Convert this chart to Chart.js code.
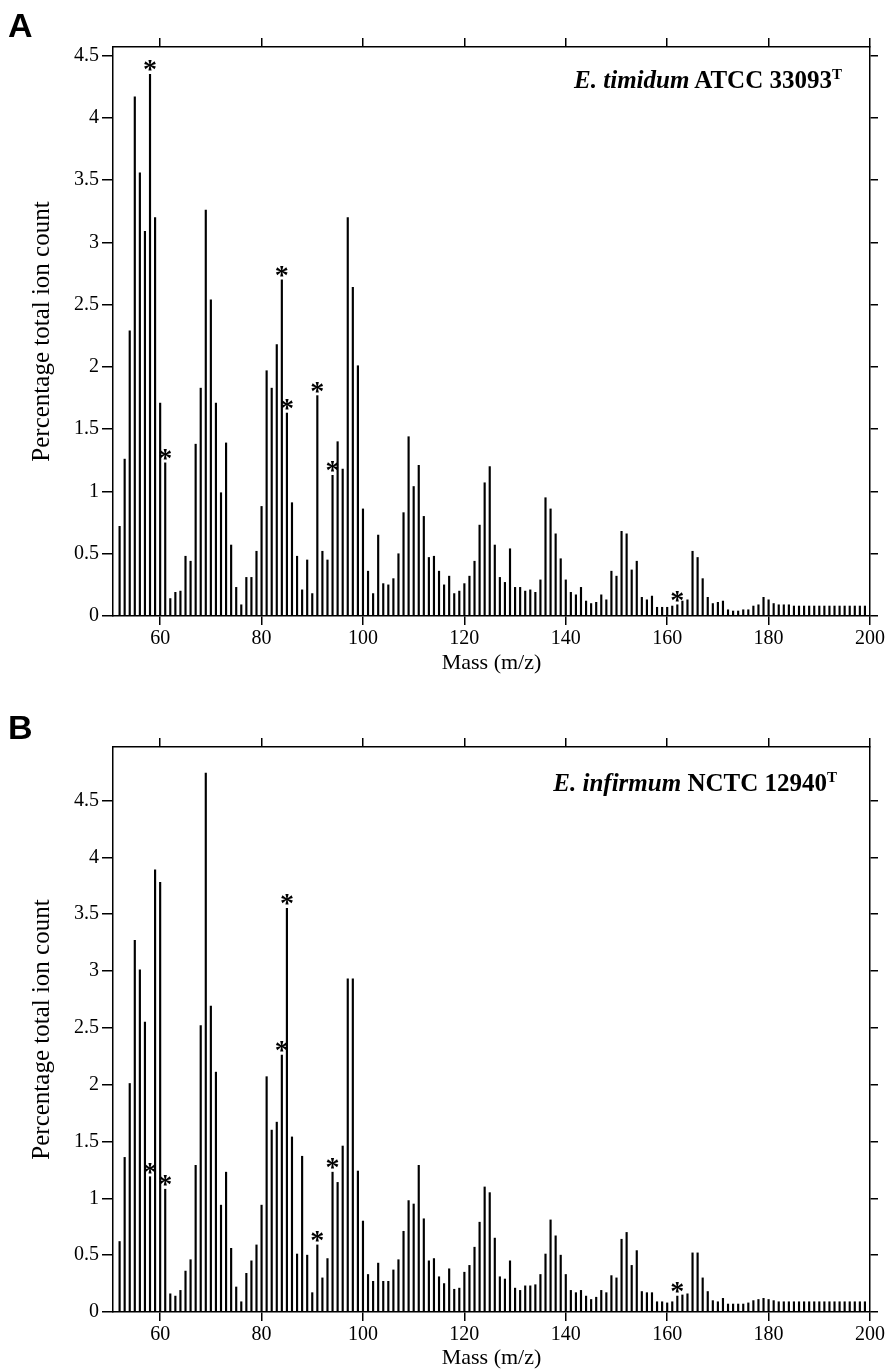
<!DOCTYPE html>
<html><head><meta charset="utf-8">
<script src="https://cdn.jsdelivr.net/npm/chart.js@4.4.0/dist/chart.umd.min.js"></script>
<style>
html,body{margin:0;padding:0;background:#fff;}
#wrap{position:relative;width:889px;height:1370px;overflow:hidden;}
.panel{position:absolute;left:0;width:889px;height:685px;}
.letter{position:absolute;font-family:"Liberation Sans",Arial,sans-serif;font-weight:bold;font-size:34px;line-height:1;color:#000;}
.ann{position:absolute;font-family:"Liberation Serif","Times New Roman",serif;font-weight:bold;font-size:25px;line-height:1;white-space:nowrap;color:#000;}
.ann sup{font-size:15px;position:relative;top:-9px;vertical-align:baseline;}
</style></head>
<body>
<div id="wrap">
 <div class="panel" style="top:0"><canvas id="cA" width="889" height="685"></canvas></div>
 <div class="panel" style="top:685px"><canvas id="cB" width="889" height="685"></canvas></div>
 <div class="letter" style="left:8px;top:8px">A</div>
 <div class="letter" style="left:8px;top:710px">B</div>
 <div class="ann" style="right:47px;top:67px"><i>E. timidum</i> ATCC 33093<sup>T</sup></div>
 <div class="ann" style="right:52px;top:770px"><i>E. infirmum</i> NCTC 12940<sup>T</sup></div>
</div>
<script>
// m/z categories
const masses = [52,53,54,55,56,57,58,59,60,61,62,63,64,65,66,67,68,69,70,71,72,73,74,75,76,77,78,79,80,81,82,83,84,85,86,87,88,89,90,91,92,93,94,95,96,97,98,99,100,101,102,103,104,105,106,107,108,109,110,111,112,113,114,115,116,117,118,119,120,121,122,123,124,125,126,127,128,129,130,131,132,133,134,135,136,137,138,139,140,141,142,143,144,145,146,147,148,149,150,151,152,153,154,155,156,157,158,159,160,161,162,163,164,165,166,167,168,169,170,171,172,173,174,175,176,177,178,179,180,181,182,183,184,185,186,187,188,189,190,191,192,193,194,195,196,197,198,199];

// Panel A: E. timidum ATCC 33093T, percentage total ion count
const timidum = [0.72,1.26,2.29,4.17,3.56,3.09,4.35,3.20,1.71,1.23,0.14,0.19,0.20,0.48,0.44,1.38,1.83,3.26,2.54,1.71,0.99,1.39,0.57,0.23,0.09,0.31,0.31,0.52,0.88,1.97,1.83,2.18,2.70,1.63,0.91,0.48,0.21,0.45,0.18,1.77,0.52,0.45,1.13,1.40,1.18,3.20,2.64,2.01,0.86,0.36,0.18,0.65,0.26,0.25,0.30,0.50,0.83,1.44,1.04,1.21,0.80,0.47,0.48,0.36,0.25,0.32,0.18,0.20,0.26,0.32,0.44,0.73,1.07,1.20,0.57,0.31,0.27,0.54,0.23,0.23,0.20,0.21,0.19,0.29,0.95,0.86,0.66,0.46,0.29,0.19,0.17,0.23,0.12,0.10,0.11,0.17,0.13,0.36,0.32,0.68,0.66,0.37,0.44,0.15,0.13,0.16,0.07,0.07,0.07,0.08,0.09,0.12,0.13,0.52,0.47,0.30,0.15,0.10,0.11,0.12,0.05,0.04,0.04,0.05,0.05,0.08,0.09,0.15,0.13,0.10,0.09,0.09,0.09,0.08,0.08,0.08,0.08,0.08,0.08,0.08,0.08,0.08,0.08,0.08,0.08,0.08,0.08,0.08];

// Panel B: E. infirmum NCTC 12940T
const infirmum = [0.62,1.36,2.01,3.27,3.01,2.55,1.19,3.89,3.78,1.08,0.16,0.14,0.19,0.36,0.46,1.29,2.52,4.74,2.69,2.11,0.94,1.23,0.56,0.22,0.09,0.34,0.45,0.59,0.94,2.07,1.60,1.67,2.26,3.55,1.54,0.51,1.37,0.50,0.17,0.59,0.30,0.47,1.23,1.14,1.46,2.93,2.93,1.24,0.80,0.33,0.27,0.43,0.27,0.27,0.37,0.46,0.71,0.98,0.95,1.29,0.82,0.45,0.47,0.31,0.25,0.38,0.20,0.21,0.35,0.41,0.57,0.79,1.10,1.05,0.65,0.31,0.29,0.45,0.21,0.19,0.23,0.23,0.24,0.33,0.51,0.81,0.67,0.50,0.33,0.19,0.17,0.19,0.14,0.11,0.13,0.19,0.17,0.32,0.30,0.64,0.70,0.41,0.54,0.18,0.17,0.17,0.09,0.09,0.08,0.09,0.14,0.15,0.16,0.52,0.52,0.30,0.18,0.10,0.09,0.12,0.07,0.07,0.07,0.07,0.08,0.10,0.11,0.12,0.11,0.10,0.09,0.09,0.09,0.09,0.09,0.09,0.09,0.09,0.09,0.09,0.09,0.09,0.09,0.09,0.09,0.09,0.09,0.09];

// masses marked with an asterisk
const starsA = [58,61,84,85,91,94,162];
const starsB = [58,61,84,85,91,94,162];

// tick labels
const xTicks = [60,80,100,120,140,160,180,200];
const yTicks = [0,0.5,1,1.5,2,2.5,3,3.5,4,4.5];

const serif = '"Liberation Serif","Times New Roman",serif';

const starPlugin = {
  id: 'stars',
  afterDatasetsDraw(chart, args, opts) {
    const ctx = chart.ctx, xs = chart.scales.x, ys = chart.scales.y;
    const vals = chart.data.datasets[0].data;
    ctx.save();
    ctx.fillStyle = '#000';
    ctx.font = 'bold 28px ' + serif;
    ctx.textAlign = 'center';
    ctx.textBaseline = 'alphabetic';
    opts.marks.forEach(m => {
      const p = vals.find(d => d.x === m);
      if (!p) return;
      ctx.fillText('*', xs.getPixelForValue(m), ys.getPixelForValue(p.y) + 4);
    });
    ctx.restore();
  }
};

function makeChart(id, values, marks, yMax, dims) {
  const axisGrid = (len) => ({drawOnChartArea:false, drawTicks:true, tickLength:len, color:'#000', lineWidth:1.5});
  const border = {display:true, color:'#000', width:1.5};
  return new Chart(document.getElementById(id), {
    type: 'bar',
    data: {
      datasets: [{
        data: masses.map((m, i) => ({x: m, y: values[i]})),
        backgroundColor: '#000',
        borderWidth: 0,
        barThickness: 1.5
      }]
    },
    plugins: [starPlugin],
    options: {
      responsive: false,
      animation: false,
      events: [],
      layout: {padding: 0},
      plugins: {legend:{display:false}, tooltip:{enabled:false}, stars:{marks}},
      scales: {
        x: {
          type:'linear', position:'bottom', min:50.7, max:200, offset:false,
          grid: Object.assign(axisGrid(9), {offset:false}), border,
          afterBuildTicks: s => { s.ticks = xTicks.map(v => ({value:v})); },
          afterFit: s => { s.height = 685 - dims.bottom; },
          ticks: {color:'#000', font:{family:serif, size:20}, padding:2, maxRotation:0, autoSkip:false, callback: v => String(v)},
          title: {display:true, text:'Mass (m/z)', color:'#000', font:{family:serif, size:22}, padding:{top:0,bottom:dims.titlePad}}
        },
        x2: {
          type:'linear', position:'top', min:50.7, max:200, offset:false,
          grid: Object.assign(axisGrid(9), {offset:false}), border,
          afterBuildTicks: s => { s.ticks = xTicks.map(v => ({value:v})); },
          afterFit: s => { s.height = dims.top; },
          ticks: {display:false}
        },
        y: {
          type:'linear', position:'left', min:0, max:yMax,
          grid: axisGrid(11), border,
          afterBuildTicks: s => { s.ticks = yTicks.map(v => ({value:v})); },
          afterFit: s => { s.width = 113; },
          ticks: {color:'#000', font:{family:serif, size:20}, padding:3, callback: v => String(v)},
          title: {display:true, text:'Percentage total ion count', color:'#000', font:{family:serif, size:25}, padding:{top:27,bottom:0}}
        },
        y2: {
          type:'linear', position:'right', min:0, max:yMax,
          grid: axisGrid(8), border,
          afterBuildTicks: s => { s.ticks = yTicks.map(v => ({value:v})); },
          afterFit: s => { s.width = 19; },
          ticks: {display:false}
        }
      }
    }
  });
}

makeChart('cA', timidum, starsA, 4.57, {top:47, bottom:616, titlePad:9});
makeChart('cB', infirmum, starsB, 4.97, {top:62, bottom:627, titlePad:-1});
</script>
</body></html>
